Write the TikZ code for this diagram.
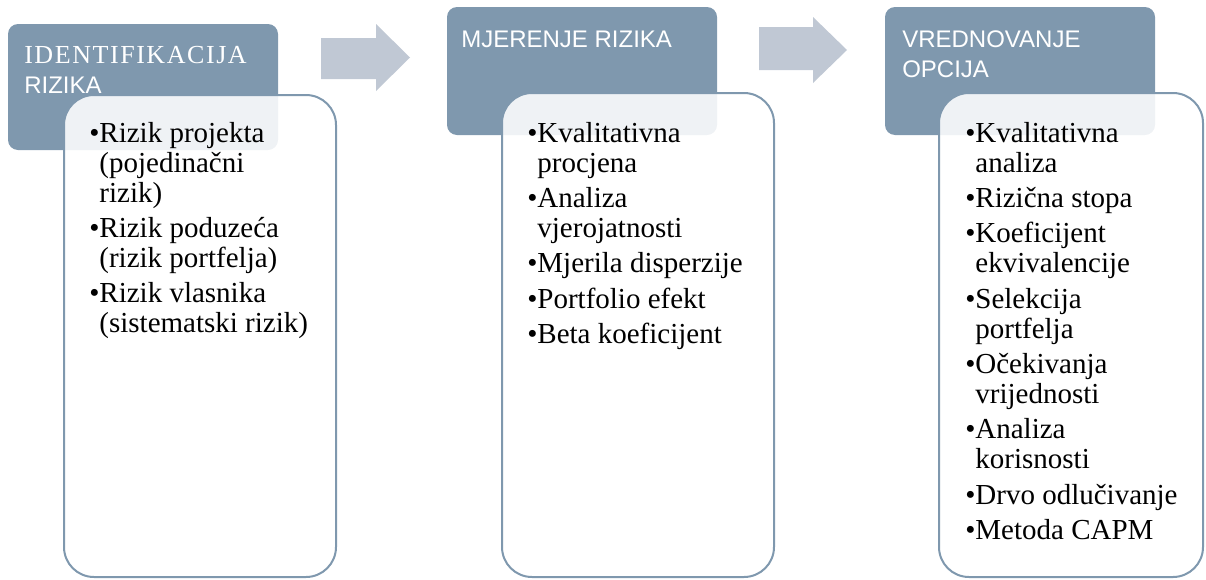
\documentclass[tikz,border=0pt]{standalone}
\usepackage{fontspec}
\setmainfont{Liberation Serif}
\newfontfamily\hdsans{Liberation Sans}
\newfontfamily\hdserif[LetterSpace=6]{Liberation Serif}
\usetikzlibrary{positioning}

\definecolor{slate}{RGB}{127,152,174}
\definecolor{arrowgray}{RGB}{192,200,212}

\tikzset{
  headbox/.style={fill=slate, rounded corners=7.5pt},
  listbox/.style={draw=slate, line width=1.5pt, fill=white, fill opacity=0.88, rounded corners=22.5pt},
  flowarrow/.style={fill=arrowgray},
  headtext/.style={anchor=base west, inner sep=0pt, text=white,
    font=\hdsans\fontsize{18pt}{22.5pt}\selectfont},
  itemtext/.style={anchor=base west, inner sep=0pt,
    font=\fontsize{21.75pt}{22.5pt}\selectfont},
}
\newcommand{\itemgap}{\\[4pt]}

\begin{document}
\begin{tikzpicture}[x=0.75pt,y=-0.75pt]
  \useasboundingbox (0,0) rectangle (1206,579);

  % header boxes
  \fill[headbox] (8,24) rectangle (278,150);
  \fill[headbox] (447,7) rectangle (717,135);
  \fill[headbox] (885,7) rectangle (1155,135);

  % arrows between the steps
  \fill[flowarrow] (321,38) -- (376,38) -- (376,24) -- (410,57.5) -- (376,91) -- (376,79) -- (321,79) -- cycle;
  \fill[flowarrow] (759,27) -- (813,27) -- (813,17) -- (847,50) -- (813,83) -- (813,70) -- (759,70) -- cycle;

  \node[headtext] (hd1) at (24,63) {\begin{tabular}[t]{@{}l@{}}{\hdserif\fontsize{19.5pt}{22.5pt}\selectfont IDENTIFIKACIJA}\\RIZIKA\end{tabular}};
  \node[headtext] (hd2) at (461,47) {MJERENJE RIZIKA};
  \node[headtext] (hd3) at (902,47) {\begin{tabular}[t]{@{}l@{}}VREDNOVANJE\\OPCIJA\end{tabular}};

  % list boxes
  \draw[listbox] (64,95) rectangle (336,577);
  \draw[listbox] (502,93) rectangle (774,577);
  \draw[listbox] (939,93) rectangle (1203,577);

  \node[itemtext] (ls1) at (89,142) {\begin{tabular}[t]{@{}l@{}l@{}}
    \textbullet & Rizik projekta\\
    & (pojedinačni\\
    & rizik)\itemgap
    \textbullet & Rizik poduzeća\\
    & (rizik portfelja)\itemgap
    \textbullet & Rizik vlasnika\\
    & (sistematski rizik)
  \end{tabular}};

  \node[itemtext] (ls2) at (527,142) {\begin{tabular}[t]{@{}l@{}l@{}}
    \textbullet & Kvalitativna\\
    & procjena\itemgap
    \textbullet & Analiza\\
    & vjerojatnosti\itemgap
    \textbullet & Mjerila disperzije\itemgap
    \textbullet & Portfolio efekt\itemgap
    \textbullet & Beta koeficijent
  \end{tabular}};

  \node[itemtext] (ls3) at (965,142) {\begin{tabular}[t]{@{}l@{}l@{}}
    \textbullet & Kvalitativna\\
    & analiza\itemgap
    \textbullet & Rizična stopa\itemgap
    \textbullet & Koeficijent\\
    & ekvivalencije\itemgap
    \textbullet & Selekcija\\
    & portfelja\itemgap
    \textbullet & Očekivanja\\
    & vrijednosti\itemgap
    \textbullet & Analiza\\
    & korisnosti\itemgap
    \textbullet & Drvo odlučivanje\itemgap
    \textbullet & Metoda CAPM
  \end{tabular}};
\end{tikzpicture}
\end{document}
